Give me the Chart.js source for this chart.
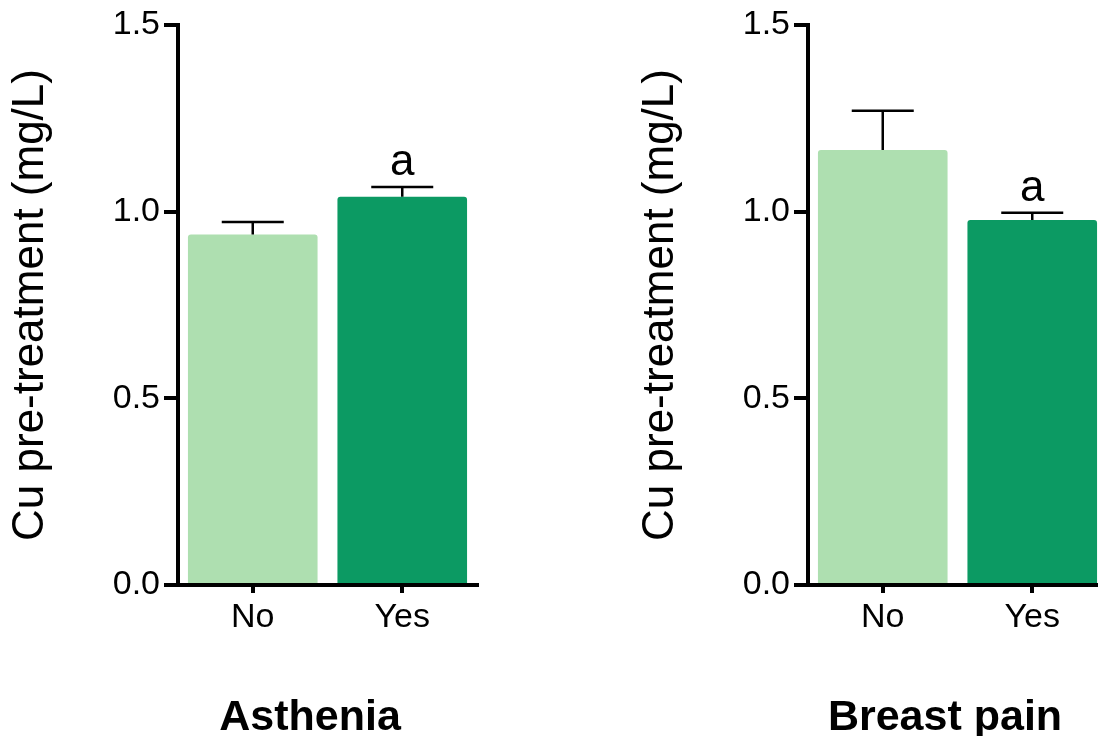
<!DOCTYPE html>
<html>
<head>
<meta charset="utf-8">
<script src="https://cdn.jsdelivr.net/npm/chart.js@4.4.1/dist/chart.umd.min.js"></script>
<style>
  html, body { margin: 0; padding: 0; background: #ffffff; overflow: hidden; }
  body { width: 1098px; height: 736px; position: relative; }
  .panel { position: absolute; top: 0; }
</style>
</head>
<body>
<div class="panel" style="left:0px"><canvas id="asthenia" width="600" height="736"></canvas></div>
<div class="panel" style="left:630px"><canvas id="breastPain" width="600" height="736"></canvas></div>
<script>
// Groups on the x axis
const categories = ['No', 'Yes'];
// Y-axis tick values
const yTicks = [0.0, 0.5, 1.0, 1.5];

// Asthenia: mean Cu (mg/L) and top of the error bar (mean + SEM)
const astheniaMean = [0.939, 1.040];
const astheniaUpper = [0.972, 1.066];
const astheniaMarks = ['', 'a'];

// Breast pain: mean Cu (mg/L) and top of the error bar (mean + SEM)
const breastPainMean = [1.165, 0.978];
const breastPainUpper = [1.270, 0.997];
const breastPainMarks = ['', 'a'];

const FONT = "'Liberation Sans', Arial, Helvetica, sans-serif";
const barColors = ['#aedfb0', '#0c9a63'];

// Upper error bars, significance letters and the panel caption
const annotations = {
  id: 'annotations',
  afterDatasetsDraw(chart, args, opts) {
    const ctx = chart.ctx;
    const x = chart.scales.x, y = chart.scales.y;
    ctx.save();
    ctx.strokeStyle = '#000';
    ctx.lineWidth = 2.5;
    ctx.lineCap = 'butt';
    opts.upper.forEach((u, i) => {
      const px = x.getPixelForValue(i);
      const yTop = y.getPixelForValue(u);
      const yBar = y.getPixelForValue(opts.mean[i]);
      ctx.beginPath();
      ctx.moveTo(px, yBar);
      ctx.lineTo(px, yTop);
      ctx.moveTo(px - 31, yTop);
      ctx.lineTo(px + 31, yTop);
      ctx.stroke();
      if (opts.marks[i]) {
        ctx.fillStyle = '#000';
        ctx.font = '44px ' + FONT;
        ctx.textAlign = 'center';
        ctx.textBaseline = 'alphabetic';
        ctx.fillText(opts.marks[i], px, yTop - 12);
      }
    });
    ctx.fillStyle = '#000';
    ctx.font = 'bold 43px ' + FONT;
    ctx.textAlign = 'center';
    ctx.textBaseline = 'alphabetic';
    ctx.fillText(opts.caption, opts.captionX, 730);
    ctx.restore();
  }
};

function makePanel(id, caption, captionX, mean, upper, marks) {
  return new Chart(document.getElementById(id), {
    type: 'bar',
    data: {
      labels: categories,
      datasets: [{
        data: mean,
        backgroundColor: barColors,
        borderWidth: 0,
        borderRadius: 3,
        borderSkipped: 'start',
        barPercentage: 0.867,
        categoryPercentage: 1.0
      }]
    },
    options: {
      responsive: false,
      animation: false,
      devicePixelRatio: 1,
      layout: { padding: { top: 25, right: 123, bottom: 0, left: 0 } },
      plugins: {
        legend: { display: false },
        tooltip: { enabled: false },
        annotations: { mean: mean, upper: upper, marks: marks, caption: caption, captionX: captionX }
      },
      scales: {
        x: {
          offset: true,
          grid: { offset: false, drawOnChartArea: false, drawTicks: true, tickLength: 8, color: '#000', lineWidth: 4 },
          border: { display: true, color: '#000', width: 4 },
          ticks: { color: '#000', font: { family: FONT, size: 34 }, padding: 4 },
          afterFit(scale) { scale.height = 151; }
        },
        y: {
          min: 0,
          max: 1.5,
          afterBuildTicks(scale) { scale.ticks = yTicks.map(v => ({ value: v })); },
          grid: { drawOnChartArea: false, drawTicks: true, tickLength: 14, color: '#000', lineWidth: 4 },
          border: { display: true, color: '#000', width: 4 },
          ticks: {
            color: '#000',
            font: { family: FONT, size: 34 },
            padding: 4,
            callback: v => Number(v).toFixed(1)
          },
          title: {
            display: true,
            text: 'Cu pre-treatment (mg/L)',
            color: '#000',
            font: { family: FONT, size: 44, lineHeight: 1 },
            padding: { top: 9, bottom: 0 }
          },
          afterFit(scale) { scale.width = 178; }
        }
      }
    },
    plugins: [annotations]
  });
}

makePanel('asthenia', 'Asthenia', 310, astheniaMean, astheniaUpper, astheniaMarks);
makePanel('breastPain', 'Breast pain', 315, breastPainMean, breastPainUpper, breastPainMarks);
</script>
</body>
</html>
